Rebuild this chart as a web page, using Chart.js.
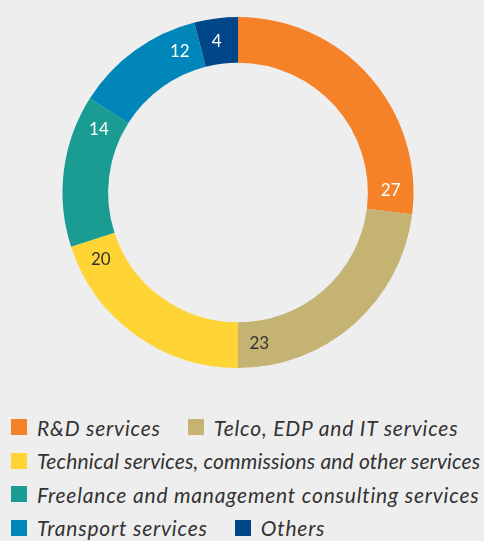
<!DOCTYPE html>
<html>
<head>
<meta charset="utf-8">
<script src="https://cdn.jsdelivr.net/npm/chart.js@4"></script>
<style>
  html, body { margin: 0; padding: 0; background: #eeeeee; }
  body { width: 484px; height: 541px; overflow: hidden; font-family: Lato, sans-serif; }
  #chart-wrap { position: relative; width: 484px; height: 385px; }
  #legend { position: absolute; left: 11px; top: 410.5px; width: 480px; display: flex; flex-wrap: wrap; }
  .item { display: flex; align-items: center; height: 33.5px; margin-right: 27px; font-style: italic; font-size: 21px; letter-spacing: 0.8px; color: #333; white-space: nowrap; }
  .item.tight { letter-spacing: 0.15px; }
  .box { width: 16px; height: 16px; margin-right: 10px; flex: none; }
</style>
</head>
<body>
<div id="chart-wrap"><canvas id="donut"></canvas></div>
<div id="legend"></div>
<script>
const categorias = ['R&D services', 'Telco, EDP and IT services', 'Technical services, commissions and other services',
    'Freelance and management consulting services', 'Transport services', 'Others'];
const valores = [27, 23, 20, 14, 12, 4];
const colores = ['#f58229', '#c5b373', '#fed535', '#1a9c92', '#0086b8', '#00478a'];
const coloresTexto = ['#ffffff', '#333333', '#333333', '#ffffff', '#ffffff', '#ffffff'];

// Etiquetas cerca del final de cada segmento, como en el original
const etiquetasPlugin = {
    id: 'etiquetas',
    afterDatasetsDraw(chart) {
        const ctx = chart.ctx;
        const meta = chart.getDatasetMeta(0);
        ctx.save();
        ctx.font = '17px Lato, sans-serif';
        ctx.textAlign = 'center';
        ctx.textBaseline = 'middle';
        meta.data.forEach((arc, i) => {
            const r = (arc.innerRadius + arc.outerRadius) / 2;
            const ang = arc.endAngle - 8 * Math.PI / 180;
            ctx.fillStyle = coloresTexto[i];
            ctx.fillText(valores[i], arc.x + r * Math.cos(ang), arc.y + r * Math.sin(ang));
        });
        ctx.restore();
    }
};

new Chart(document.getElementById('donut'), {
    type: 'doughnut',
    data: {
        labels: categorias,
        datasets: [{
            data: valores,
            backgroundColor: colores,
            borderWidth: 0
        }]
    },
    options: {
        responsive: true,
        maintainAspectRatio: false,
        animation: false,
        cutout: '74%',
        layout: { padding: { top: 17, bottom: 17, left: 0, right: 8 } },
        plugins: {
            legend: { display: false },
            tooltip: { enabled: false }
        }
    },
    plugins: [etiquetasPlugin]
});

const legend = document.getElementById('legend');
categorias.forEach((nombre, i) => {
    const texto = nombre.replace('&', '&amp;');
    const clase = nombre.startsWith('Technical') ? 'item tight' : 'item';
    legend.insertAdjacentHTML('beforeend',
        `<div class="${clase}"><span class="box" style="background:${colores[i]}"></span>${texto}</div>`);
});
</script>
</body>
</html>
